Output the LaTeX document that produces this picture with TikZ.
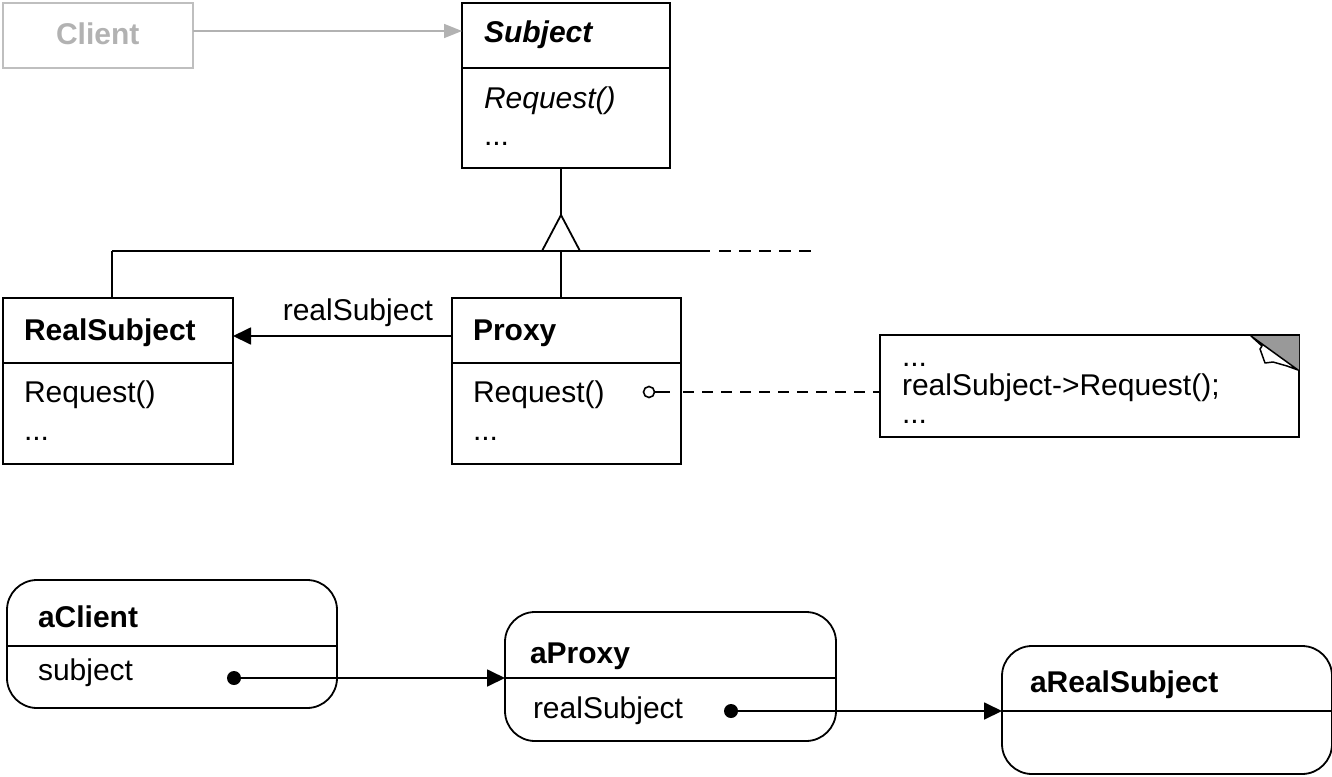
\documentclass[tikz,border=0pt]{standalone}
\usepackage{fontspec}
\setmainfont{Liberation Sans}
\usetikzlibrary{arrows.meta}
\begin{document}
\begin{tikzpicture}[x=1pt,y=-1pt,
  every node/.style={inner sep=0pt, outer sep=0pt},
  ln/.style={line width=1.8pt, black},
  box/.style={draw, line width=1.8pt, rectangle, anchor=north west},
  obj/.style={draw, line width=1.8pt, rectangle, rounded corners=30pt, anchor=north west},
  txt/.style={font=\fontsize{30}{34}\selectfont},
  lbl/.style={anchor=base west, txt},
  blbl/.style={anchor=base west, font=\fontsize{30}{34}\selectfont\bfseries},
  tip/.style={-{Triangle[length=18pt,width=17pt]}},
  refdot/.style={circle, fill=black, minimum width=9pt, minimum height=14pt}
]
\useasboundingbox (0,0) rectangle (1332,776);

% Client
\node[box, draw=black!25, minimum width=190pt, minimum height=65pt] (client) at (3,3) {};
\node[blbl, text=black!30] (clientt) at (56,45) {Client};

% Subject
\node[box, minimum width=208pt, minimum height=165pt] (subject) at (462,3) {};
\draw[ln] (462,68) -- (670,68);
\node[anchor=base west, font=\fontsize{30}{34}\selectfont\bfseries\itshape] (subjectt) at (484,42) {Subject};
\node[anchor=base west, font=\fontsize{30}{34}\selectfont\itshape] (subjreq) at (484,108) {Request()};
\node[lbl] (subjdots) at (484,145) {...};

\draw[line width=1.8pt, black!30, -{Triangle[length=18pt,width=14pt]}] (client.east |- 0,31) -- (subject.west |- 0,31);

% RealSubject
\node[box, minimum width=230pt, minimum height=166pt] (real) at (3,298) {};
\draw[ln] (3,363) -- (233,363);
\node[blbl] (realt) at (24,340) {RealSubject};
\node[lbl] (realreq) at (24,402) {Request()};
\node[lbl] (realdots) at (24,440) {...};

% Proxy
\node[box, minimum width=229pt, minimum height=166pt] (proxy) at (452,298) {};
\draw[ln] (452,363) -- (681,363);
\node[blbl] (proxyt) at (473,340) {Proxy};
\node[lbl] (proxyreq) at (473,402) {Request()};
\node[lbl] (proxydots) at (473,440) {...};

% Inheritance
\coordinate (apex) at (561,215);
\draw[ln] (subject.south -| apex) -- (apex);
\draw[ln, fill=white] (apex) -- (542,251) -- (580,251) -- cycle;
\draw[ln] (112,251) -- (710,251);
\draw[ln, dash pattern=on 12pt off 8pt] (719,251) -- (815,251);
\draw[ln] (real.north -| 112,0) -- (112,251);
\draw[ln] (proxy.north -| 561,0) -- (561,251);

% Association
\draw[ln, tip] (proxy.west |- 0,336) -- node[pos=0.43, above=9pt, txt] (assoclbl) {realSubject} (real.east |- 0,336);

% Note
\node[box, minimum width=419pt, minimum height=102pt] (note) at (880,335) {};
\fill[black!40] (1251,336) -- (1299,336) -- (1299,370) -- cycle;
\draw[line width=1.5pt, line join=round, fill=white] (1251,336) -- (1262,346) -- (1260,349) -- (1265,363) -- (1273,362) -- (1287,366) -- (1298,370) -- cycle;
\node[lbl] (n1) at (902,366) {...};
\node[lbl] (n2) at (902,395) {realSubject->Request();};
\node[lbl] (n3) at (902,423) {...};

\node[circle, draw, line width=1.6pt, minimum size=11pt] (hook) at (649,392) {};
\coordinate (hookend) at (670,392);
\draw[ln] (hook.east) -- (hookend);
\draw[ln, dash pattern=on 11pt off 8pt] (hookend) ++(13,0) -- (note.west |- 0,392);

% Objects
\node[obj, minimum width=330pt, minimum height=128pt] (aclient) at (7,580) {};
\draw[ln] (7,646) -- (337,646);
\node[blbl] (aclientt) at (38,627) {aClient};
\node[lbl] (subj) at (38,680) {subject};
\node[refdot] (d1) at (234,678) {};

\node[obj, minimum width=331pt, minimum height=129pt] (aproxy) at (505,612) {};
\draw[ln] (505,678) -- (836,678);
\node[blbl] (aproxyt) at (530,663) {aProxy};
\node[lbl] (rs) at (533,718) {realSubject};
\node[refdot] (d2) at (731,711) {};

\node[obj, minimum width=330pt, minimum height=128pt] (areal) at (1002,646) {};
\draw[ln] (1002,711) -- (1332,711);
\node[blbl] (arealt) at (1030,692) {aRealSubject};

\draw[ln, tip] (d1.center) -- (aproxy.west |- d1);
\draw[ln, tip] (d2.center) -- (areal.west |- d2);
\end{tikzpicture}
\end{document}
